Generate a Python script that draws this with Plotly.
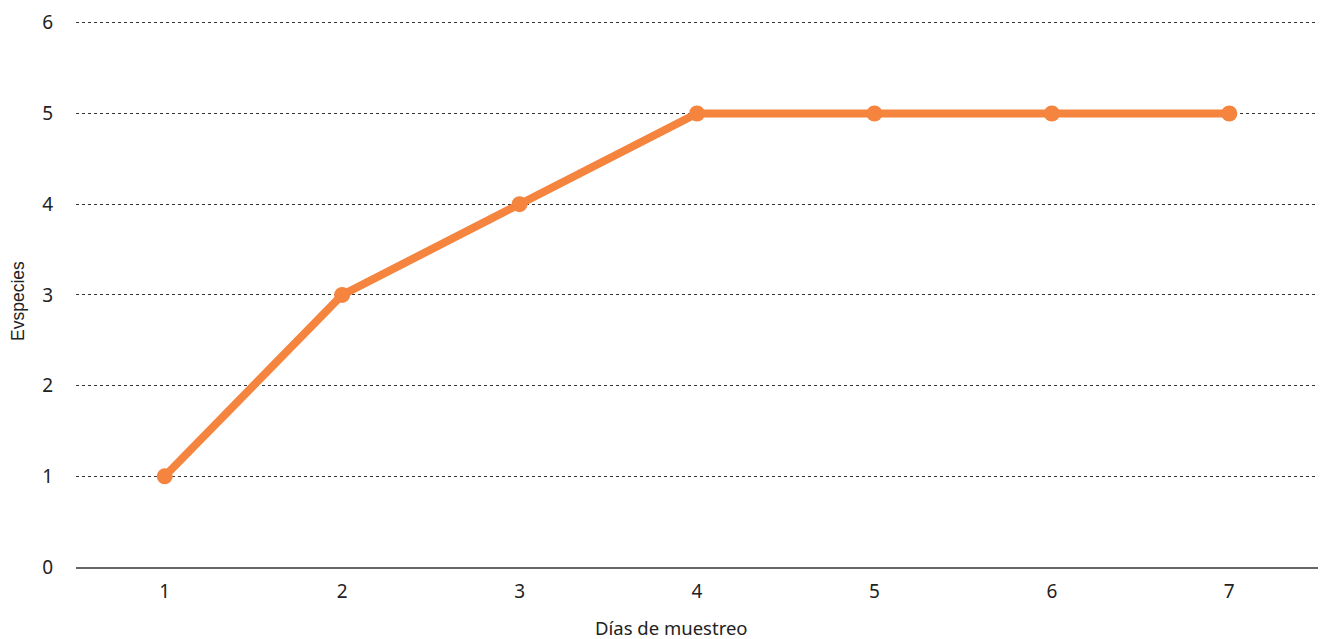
import plotly.graph_objects as go

# Sampling days and cumulative species count
dias = ["1", "2", "3", "4", "5", "6", "7"]
especies = [1, 3, 4, 5, 5, 5, 5]
y_ticks = [0, 1, 2, 3, 4, 5, 6]

ORANGE = "#F5843E"
TICK_FONT = dict(family="Noto Sans, Open Sans, sans-serif", size=19, color="#222222")

fig = go.Figure()
fig.add_trace(go.Scatter(
    x=dias, y=especies,
    mode="lines+markers",
    line=dict(color=ORANGE, width=8),
    marker=dict(color=ORANGE, size=16),
    hoverinfo="x+y",
    showlegend=False,
))

L, R, T, B = 76, 8, 21, 72
W, H = 1326, 639
PW, PH = W - L - R, H - T - B

fig.update_layout(
    width=W, height=H,
    margin=dict(l=L, r=R, t=T, b=B),
    plot_bgcolor="white", paper_bgcolor="white",
    xaxis=dict(
        type="category",
        showgrid=False,
        showline=True, linecolor="#666666", linewidth=2,
        ticks="", tickfont=TICK_FONT, ticklabelstandoff=6,
        range=[-0.5, 6.5],
        zeroline=False,
    ),
    yaxis=dict(
        range=[0, 6.02],
        tickvals=y_ticks,
        showgrid=True, gridcolor="#333333", griddash="dot", gridwidth=1,
        zeroline=False, showline=False,
        ticks="", tickfont=TICK_FONT, ticklabelstandoff=22,
    ),
    annotations=[
        dict(text="Días de muestreo", x=(671 - L) / PW, xref="paper", xanchor="center",
             y=-(627 - 567) / PH, yref="paper",
             yanchor="middle", showarrow=False,
             font=dict(family="Noto Sans, Open Sans, sans-serif", size=18.5, color="#222222")),
        dict(text="Evspecies", x=(18 - L) / PW, xref="paper", xanchor="center",
             y=(567 - 301) / PH, yref="paper", yanchor="middle",
             textangle=-90, showarrow=False,
             font=dict(family="Liberation Sans, Arial, sans-serif", size=17.5, color="#222222")),
    ],
)

fig.write_html("out.html")
